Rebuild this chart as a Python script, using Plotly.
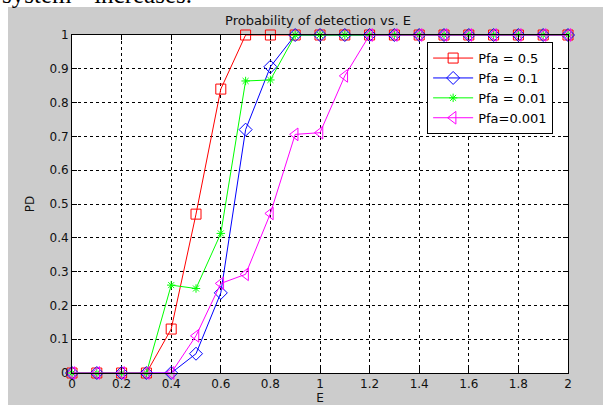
import plotly.graph_objects as go

# Energy values on the x axis
E = [0.0, 0.1, 0.2, 0.3, 0.4, 0.5, 0.6, 0.7, 0.8, 0.9, 1.0,
     1.1, 1.2, 1.3, 1.4, 1.5, 1.6, 1.7, 1.8, 1.9, 2.0]

# Probability of detection for each false-alarm probability
pd_pfa_05 = [0, 0, 0, 0, 0.13, 0.47, 0.84, 1, 1, 1, 1,
             1, 1, 1, 1, 1, 1, 1, 1, 1, 1]
pd_pfa_01 = [0, 0, 0, 0, 0, 0.057, 0.237, 0.72, 0.906, 1, 1,
             1, 1, 1, 1, 1, 1, 1, 1, 1, 1]
pd_pfa_001 = [0, 0, 0, 0, 0.26, 0.25, 0.413, 0.864, 0.867, 1, 1,
              1, 1, 1, 1, 1, 1, 1, 1, 1, 1]
pd_pfa_0001 = [0, 0, 0, 0, 0, 0.11, 0.265, 0.292, 0.472, 0.706, 0.711,
               0.879, 1, 1, 1, 1, 1, 1, 1, 1, 1]

series_names = ["Pfa = 0.5", "Pfa = 0.1", "Pfa = 0.01", "Pfa=0.001"]
series_values = [pd_pfa_05, pd_pfa_01, pd_pfa_001, pd_pfa_0001]
series_colors = ["#ff0000", "#0000ff", "#00ff00", "#ff00ff"]
series_symbols = ["square-open", "diamond-open", "asterisk-open", "triangle-left-open"]
series_sizes = [10, 10, 7, 11]

x_ticks = [0, 0.2, 0.4, 0.6, 0.8, 1, 1.2, 1.4, 1.6, 1.8, 2]
x_tick_text = ["0", "0.2", "0.4", "0.6", "0.8", "1", "1.2", "1.4", "1.6", "1.8", "2"]
y_ticks = [0, 0.1, 0.2, 0.3, 0.4, 0.5, 0.6, 0.7, 0.8, 0.9, 1]
y_tick_text = ["0", "0.1", "0.2", "0.3", "0.4", "0.5", "0.6", "0.7", "0.8", "0.9", "1"]

FONT = "DejaVu Sans, Verdana, sans-serif"
TEXT_COLOR = "#111111"

fig = go.Figure()
for name, vals, col, sym, size in zip(series_names, series_values,
                                      series_colors, series_symbols, series_sizes):
    fig.add_trace(go.Scatter(
        x=E, y=vals, name=name, mode="lines+markers",
        line=dict(color=col, width=1),
        marker=dict(symbol=sym, size=size, color=col, line=dict(color=col, width=1)),
        cliponaxis=False,
    ))

axis_common = dict(
    showline=True, linecolor="black", linewidth=1, mirror="allticks",
    ticks="inside", ticklen=5, tickcolor="black", tickwidth=1,
    showgrid=True, gridcolor="black", gridwidth=1, griddash="3px,3px",
    zeroline=False, tickfont=dict(family=FONT, size=12, color=TEXT_COLOR),
    tickmode="array",
)

fig.update_layout(
    width=603, height=405,
    margin=dict(l=72, r=35, t=35, b=32, autoexpand=False),
    paper_bgcolor="#cccccc", plot_bgcolor="white",
    showlegend=True,
    title=dict(text="Probability of detection vs. E", x=0.496, xref="paper",
               y=1 - 20 / 405, yref="container", xanchor="center", yanchor="middle",
               font=dict(family=FONT, size=13, color=TEXT_COLOR)),
    xaxis=dict(axis_common, range=[0, 2], tickvals=x_ticks, ticktext=x_tick_text,
               title=dict(text="E", standoff=3,
                          font=dict(family=FONT, size=12, color=TEXT_COLOR))),
    yaxis=dict(axis_common, range=[0, 1], tickvals=y_ticks, ticktext=y_tick_text,
               title=dict(text="PD", standoff=12,
                          font=dict(family=FONT, size=12, color=TEXT_COLOR))),
    legend=dict(x=0.716, y=0.979, xanchor="left", yanchor="top",
                bgcolor="white", bordercolor="black", borderwidth=1,
                font=dict(family=FONT, size=13, color="black"),
                tracegroupgap=0, itemwidth=40),
    shapes=[
        # white page strips around the figure window
        dict(type="rect", xref="paper", yref="paper", x0=-0.3, x1=1.2,
             y0=1.083, y1=1.3, fillcolor="white", line=dict(width=0)),
        dict(type="rect", xref="paper", yref="paper", x0=-0.3, x1=-0.129,
             y0=-0.3, y1=1.3, fillcolor="white", line=dict(width=0)),
    ],
    annotations=[
        dict(text='system"  increases.', xref="paper", yref="paper",
             x=-0.145, y=1.075, xanchor="left", yanchor="bottom",
             showarrow=False, font=dict(family="Liberation Serif, Times New Roman, serif",
                                        size=25, color="black")),
    ],
)

fig.write_html("out.html")
